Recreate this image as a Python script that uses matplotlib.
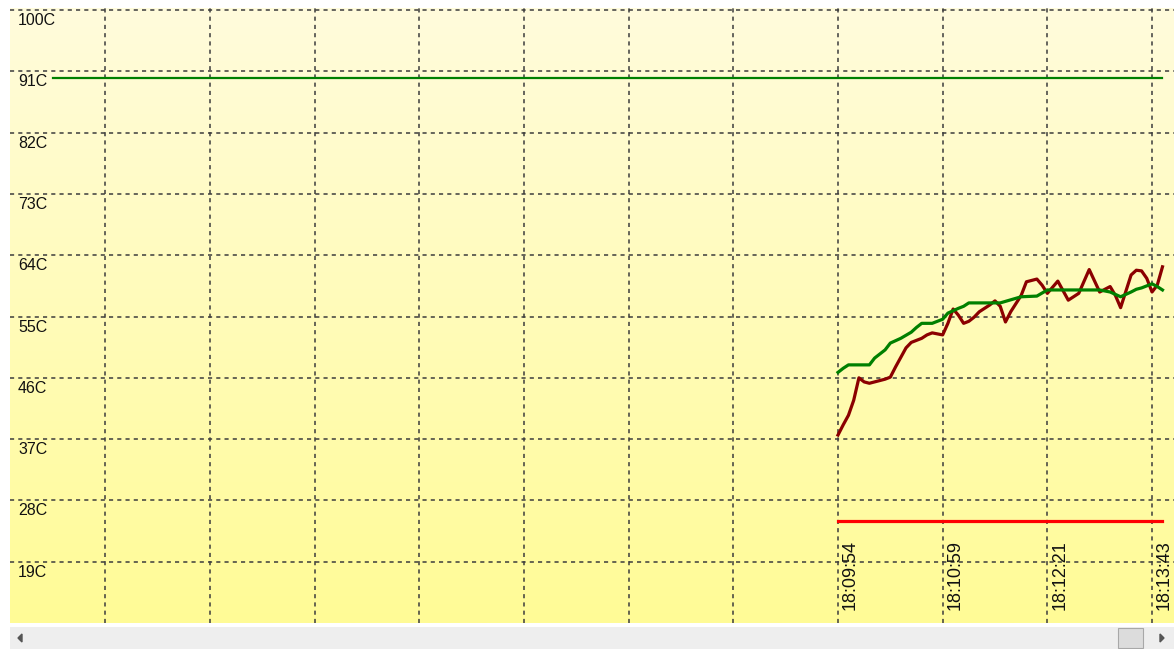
import matplotlib
matplotlib.use("Agg")
import matplotlib.pyplot as plt
import numpy as np
from matplotlib.colors import LinearSegmentedColormap
from matplotlib.patches import Rectangle, Polygon

W, H, DPI = 1174, 649, 100

# measured temperature (sample index -> deg C)
temp_idx = [0, 1, 2, 3, 4, 5, 6, 7, 9, 10, 11, 12, 13, 14, 16, 17, 18, 20,
            21, 22, 23, 24, 25, 26, 27, 29, 30, 31, 32, 33, 35, 36, 38, 39,
            40, 42, 44, 46, 48, 50, 52, 53, 54, 56, 57, 58, 59, 60, 61, 62]
temp_val = [37.6, 39.1, 40.5, 42.7, 46.0, 45.4, 45.2, 45.4, 45.8, 46.1, 47.6,
            49.0, 50.4, 51.2, 51.8, 52.3, 52.6, 52.3, 54.0, 56.1, 55.2, 54.0,
            54.3, 54.9, 55.7, 56.7, 57.3, 56.5, 54.2, 55.7, 58.1, 60.1, 60.5,
            59.6, 58.4, 60.2, 57.4, 58.4, 61.9, 58.6, 59.4, 58.1, 56.3, 61.1,
            61.8, 61.7, 60.6, 58.6, 59.6, 62.3]

# smoothed temperature
avg_idx = [0, 1, 2, 6, 7, 9, 10, 12, 14, 15, 16, 18, 20, 21, 23, 24, 25, 31,
           35, 38, 40, 50, 52, 54, 56, 57, 58, 60, 61, 62]
avg_val = [46.8, 47.4, 47.9, 47.9, 48.9, 50.1, 51.1, 51.8, 52.7, 53.4, 54.0,
           54.0, 54.6, 55.5, 56.2, 56.5, 57.0, 57.0, 57.9, 58.0, 58.9, 58.9,
           58.6, 57.9, 58.6, 59.0, 59.2, 59.8, 59.4, 58.9]

# alarm limits
high_limit = 90
high_span = [-150, 62]
low_limit = 25
low_span = [0, 62]

y_ticks = [100, 91, 82, 73, 64, 55, 46, 37, 28, 19]
y_labels = ["100C", "91C", "82C", "73C", "64C", "55C", "46C", "37C", "28C", "19C"]
x_grid = list(range(-140, 61, 20))
time_ticks = [0, 20, 40, 60]
time_labels = ["18:09:54", "18:10:59", "18:12:21", "18:13:43"]

FONT = "Liberation Sans"

fig = plt.figure(figsize=(W / DPI, H / DPI), dpi=DPI)
fig.patch.set_facecolor("white")

ax = fig.add_axes([10 / W, 26 / H, 1 - 10 / W, 615 / H])
xlim = (-158.2, 64.2)
ylim = (10, 100.3)
ax.set_xlim(*xlim)
ax.set_ylim(*ylim)

# yellow gradient background
cmap = LinearSegmentedColormap.from_list("bg", ["#FFFCDC", "#FFFB96"])
grad = np.linspace(0, 1, 256).reshape(-1, 1)
ax.imshow(grad, cmap=cmap, extent=[xlim[0], xlim[1], ylim[0], ylim[1]],
          aspect="auto", origin="upper", zorder=0)

# dashed grid
for v in y_ticks:
    ax.axhline(v, color="#3C3C3C", lw=1.1, ls=(0, (2.7, 2.7)), zorder=1)
for x in x_grid:
    ax.axvline(x, color="#3C3C3C", lw=1.1, ls=(0, (2.7, 2.7)), zorder=1)

# limits
ax.plot(high_span, [high_limit, high_limit], color="#008000", lw=1.6, zorder=3)
ax.plot(low_span, [low_limit, low_limit], color="#FF0000", lw=2.3, zorder=3)

# series
ax.plot(temp_idx, temp_val, color="#8B0000", lw=2.3, zorder=4)
ax.plot(avg_idx, avg_val, color="#008000", lw=2.3, zorder=5)

# y labels inside plot
for v, lbl in zip(y_ticks, y_labels):
    ax.annotate(lbl, xy=(0, v), xycoords=("axes fraction", "data"),
                xytext=(8, -3), textcoords="offset pixels",
                ha="left", va="top", fontsize=11.5, family=FONT, color="#111111")

# time labels, rotated
for x, lbl in zip(time_ticks, time_labels):
    ax.annotate(lbl, xy=(x, 0), xycoords=("data", "axes fraction"),
                xytext=(4, 13), textcoords="offset pixels", rotation=90,
                ha="left", va="bottom", fontsize=13, family=FONT, color="#111111")

ax.set_xticks([])
ax.set_yticks([])
for s in ax.spines.values():
    s.set_visible(False)

# scrollbar strip
sb = fig.add_axes([10 / W, 0, 1 - 10 / W, 22 / H])
sb.set_xlim(0, 1164)
sb.set_ylim(0, 22)
sb.add_patch(Rectangle((0, 0), 1164, 22, color="#EEEEEE"))
sb.add_patch(Polygon([[8, 11], [12, 15], [12, 7]], closed=True, color="#555555"))
sb.add_patch(Polygon([[1154, 11], [1150, 15], [1150, 7]], closed=True, color="#555555"))
sb.add_patch(Rectangle((1108, 1), 25, 20, facecolor="#DCDCDC", edgecolor="#A8A8A8", lw=0.8))
sb.axis("off")

fig.savefig("out.png", dpi=DPI)
